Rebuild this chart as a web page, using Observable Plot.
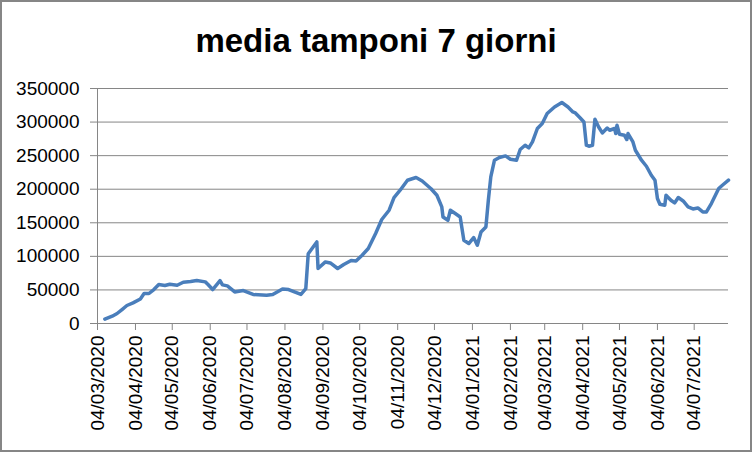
<!DOCTYPE html>
<html><head><meta charset="utf-8">
<script src="https://cdn.jsdelivr.net/npm/d3@7"></script>
<script src="https://cdn.jsdelivr.net/npm/@observablehq/plot@0.6"></script>
<style>
body{margin:0;background:#fff;}
#wrap{position:relative;width:752px;height:452px;overflow:hidden;font-family:"Liberation Sans",Arial,sans-serif;background:#fff;}
#frame{position:absolute;left:0;top:0;width:752px;height:452px;border:2px solid #868686;box-sizing:border-box;pointer-events:none;}
#title{height:80px;box-sizing:border-box;padding-top:23px;line-height:36px;text-align:center;font-weight:bold;font-size:33px;color:#000;}
#chart svg{display:block;overflow:visible;}
</style></head>
<body><div id="wrap"><div id="title">media tamponi 7 giorni</div><div id="chart"></div><div id="frame"></div></div>
<script>
const dates = ["2020-03-10","2020-03-16","2020-03-20","2020-03-24","2020-03-28","2020-04-02","2020-04-08","2020-04-11","2020-04-15","2020-04-19","2020-04-23","2020-04-28","2020-05-02","2020-05-08","2020-05-13","2020-05-19","2020-05-24","2020-05-31","2020-06-02","2020-06-06","2020-06-12","2020-06-14","2020-06-18","2020-06-24","2020-07-01","2020-07-09","2020-07-20","2020-07-25","2020-08-02","2020-08-07","2020-08-17","2020-08-21","2020-08-23","2020-08-27","2020-08-30","2020-08-31","2020-09-06","2020-09-10","2020-09-16","2020-09-21","2020-09-27","2020-10-01","2020-10-06","2020-10-11","2020-10-17","2020-10-22","2020-10-28","2020-11-01","2020-11-06","2020-11-12","2020-11-19","2020-11-24","2020-12-01","2020-12-06","2020-12-10","2020-12-11","2020-12-15","2020-12-17","2020-12-21","2020-12-25","2020-12-28","2021-01-01","2021-01-05","2021-01-08","2021-01-11","2021-01-15","2021-01-17","2021-01-19","2021-01-22","2021-01-26","2021-01-31","2021-02-04","2021-02-09","2021-02-12","2021-02-16","2021-02-19","2021-02-22","2021-02-26","2021-03-02","2021-03-06","2021-03-12","2021-03-18","2021-03-23","2021-03-27","2021-03-29","2021-04-02","2021-04-05","2021-04-07","2021-04-09","2021-04-12","2021-04-14","2021-04-17","2021-04-20","2021-04-24","2021-04-26","2021-04-30","2021-05-01","2021-05-02","2021-05-04","2021-05-08","2021-05-10","2021-05-11","2021-05-15","2021-05-17","2021-05-22","2021-05-26","2021-05-30","2021-06-02","2021-06-04","2021-06-06","2021-06-10","2021-06-11","2021-06-15","2021-06-18","2021-06-21","2021-06-25","2021-06-29","2021-07-03","2021-07-07","2021-07-11","2021-07-14","2021-07-18","2021-07-20","2021-07-24","2021-07-27","2021-08-01"];
const values = [6400,10900,14900,20800,26800,30700,36600,44700,44700,50600,58000,56600,58500,57000,61500,62500,64000,62000,58500,50600,64000,57500,56000,47000,49100,43200,42100,43200,51500,50600,43200,52100,104000,114000,121500,82000,91700,90200,81900,87800,93800,93200,101700,111700,134000,154900,168700,187600,198500,213400,217400,212300,201000,191000,173600,158700,153800,168700,163800,158700,124000,119100,128000,116600,136400,143800,183600,218300,243200,247200,249600,244600,243200,259100,265500,261500,270400,290400,297800,312700,322500,329100,322500,315100,313600,306100,300200,265500,264000,265500,304200,292700,283800,291200,287800,290400,282900,295300,281900,280400,274000,282900,270400,258000,243200,234200,220800,213400,186100,177600,176100,191000,183600,179600,187600,182500,173600,170600,172100,166200,166200,178700,186100,201000,205900,213400];
const yTicks = [0,50000,100000,150000,200000,250000,300000,350000];
const xTicks = ["2020-03-04","2020-04-04","2020-05-04","2020-06-04","2020-07-04","2020-08-04","2020-09-04","2020-10-04","2020-11-04","2020-12-04","2021-01-04","2021-02-04","2021-03-04","2021-04-04","2021-05-04","2021-06-04","2021-07-04"];
const xDomain = ["2020-03-04","2021-08-01"];

const data = dates.map((d,i)=>({date:new Date(d), value:values[i]}));
const tickDates = xTicks.map(d=>new Date(d));
const fmt = d3.utcFormat("%d/%m/%Y");
const grid = "#868686";

const chart = Plot.plot({
  width:752, height:372,
  marginLeft:97, marginRight:24, marginTop:8, marginBottom:129,
  style:{fontFamily:"'Liberation Sans', Arial, sans-serif", fontSize:"19px", color:"#000", background:"transparent", overflow:"visible"},
  x:{type:"utc", domain:xDomain.map(d=>new Date(d))},
  y:{domain:[0,350000]},
  marks:[
    Plot.gridY(yTicks,{stroke:grid, strokeOpacity:1, strokeWidth:1}),
    Plot.ruleX([new Date(xDomain[0])],{y1:0,y2:350000,stroke:grid,strokeWidth:1}),
    Plot.axisY(yTicks,{tickSize:7, tickPadding:11, stroke:grid, fill:"#000", tickFormat:d=>String(d), label:null, fontSize:19}),
    Plot.axisX(tickDates,{tickSize:7, tickPadding:5, tickRotate:-90, stroke:grid, fill:"#000", tickFormat:fmt, label:null, fontSize:19}),
    Plot.line(data,{x:"date", y:"value", stroke:"#4a7ebb", strokeWidth:3.5, strokeLinejoin:"round", strokeLinecap:"round"})
  ]
});
document.getElementById("chart").appendChild(chart);
</script>
</body></html>
